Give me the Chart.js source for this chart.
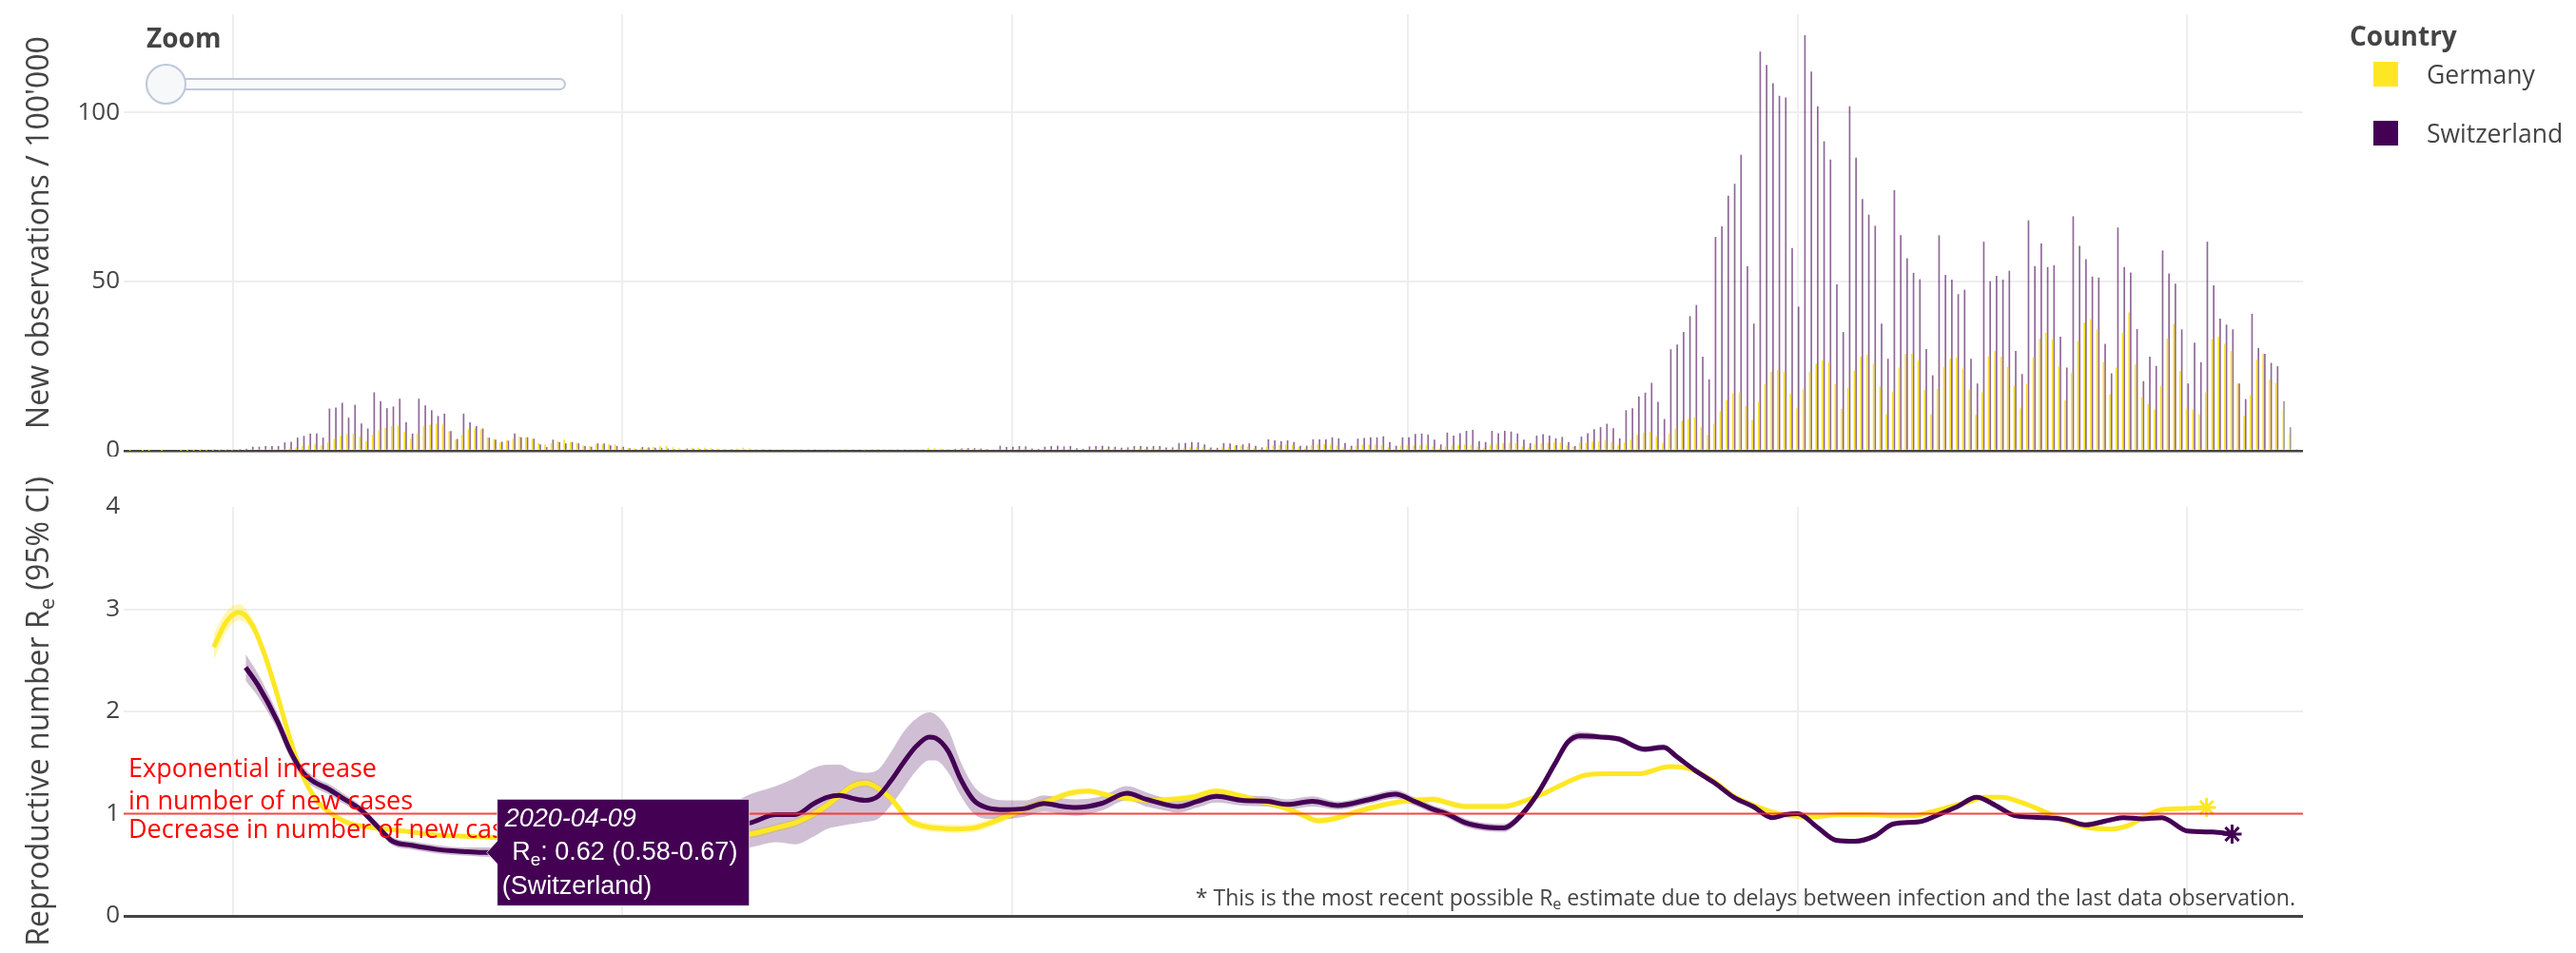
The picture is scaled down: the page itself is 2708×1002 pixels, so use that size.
<!DOCTYPE html>
<html>
<head>
<meta charset="utf-8">
<title>New observations and reproductive number</title>
<script src="https://cdn.jsdelivr.net/npm/chart.js@4.4.1/dist/chart.umd.min.js"></script>
<style>
  html, body { margin: 0; padding: 0; background: #fff; }
  body { position: relative; width: 2708px; height: 1002px; overflow: hidden; font-family: "Open Sans", sans-serif; color: #444; }
  canvas { position: absolute; left: 0; }
  #casesChart { top: 0; }
  #reChart { top: 480px; }
  .zoom-label { position: absolute; left: 154px; top: 20px; font-size: 28px; font-weight: 700; line-height: 38px; }
  .zoom-track { position: absolute; left: 165px; top: 82px; width: 426px; height: 9px; background: #f8fafc; border: 2px solid #bec8d9; border-radius: 7px; }
  .zoom-handle { position: absolute; left: 153px; top: 67px; width: 39px; height: 39px; border-radius: 50%; background: #f6f8fa; border: 2px solid #bec8d9; }
  .legend-title { position: absolute; left: 2470px; top: 18px; font-size: 28px; font-weight: 700; line-height: 38px; white-space: nowrap; }
  .legend-item { position: absolute; left: 2495px; font-size: 26.5px; line-height: 36px; white-space: nowrap; }
  .legend-item span { position: absolute; left: 0; top: 5px; width: 26px; height: 26px; }
  .legend-item em { position: absolute; left: 56px; top: 0; font-style: normal; }
</style>
</head>
<body>
<canvas id="casesChart" width="2708" height="480"></canvas>
<canvas id="reChart" width="2708" height="522"></canvas>

<div class="zoom-label">Zoom</div>
<div class="zoom-track"></div>
<div class="zoom-handle"></div>

<div class="legend-title">Country</div>
<div class="legend-item" style="top:60px"><span style="background:#fde725"></span><em>Germany</em></div>
<div class="legend-item" style="top:122px"><span style="background:#440154"></span><em>Switzerland</em></div>

<script>
// days are counted from 2020-03-01 (day 0)
const firstCaseDay = -16;        // first bar: 2020-02-14
const provisionalFrom = 321;     // the last days are not complete yet
const gridDays = [0, 61, 122, 184, 245, 306];   // 1 Mar, 1 May, 1 Jul, 1 Sep, 1 Nov, 1 Jan
const casesTicks = [0, 50, 100];
const reTicks = [0, 1, 2, 3, 4];
const hoverDay = 39;             // 2020-04-09

// new cases per 100'000, one value per day (Feb | Mar | Apr | ... | Jan)
const casesGermany = [
  0.02, 0, 0.02, 0.02, 0, 0.02, 0, 0, 0.02, 0.02, 0.03, 0.05, 0.05, 0.08, 0.1, 0.15,
  0.15, 0.2, 0.2, 0.25, 0.3, 0.35, 0.3, 0.25, 0.4, 0.7, 1.0, 1.4, 1.6, 2.0, 1.6, 2.5, 3.5, 4.4, 5.0, 5.1, 4.2, 2.8, 4.7, 6.1, 6.8, 7.3, 7.3, 5.6, 3.7, 5.1, 7.3,
  7.7, 8.0, 7.8, 5.8, 3.3, 4.7, 6.4, 6.6, 6.3, 4.0, 3.5, 2.5, 3.1, 3.6, 4.2, 4.0, 3.5, 2.3, 1.9, 2.3, 2.8, 3.3, 2.5, 2.3, 1.6, 1.4, 1.9, 1.9, 1.9, 1.9,
  1.0, 0.9, 0.8, 0.8, 0.9, 1.1, 1.4, 1.4, 1.0, 0.8, 0.6, 0.9, 0.9, 0.9, 0.8, 0.7, 0.6, 0.5, 0.7, 0.9, 0.7, 0.6, 0.6, 0.5, 0.4, 0.5, 0.4, 0.5, 0.5, 0.4, 0.3,
  0.3, 0.4, 0.4, 0.5, 0.5, 0.4, 0.3, 0.2, 0.4, 0.5, 0.4, 0.5, 0.3, 0.2, 0.3, 0.4, 0.5, 0.9, 0.8, 0.7, 0.5, 0.6, 0.6, 0.6, 0.6, 0.6, 0.5, 0.3, 0.5, 0.4,
  0.5, 0.6, 0.5, 0.4, 0.3, 0.3, 0.5, 0.5, 0.5, 0.5, 0.4, 0.3, 0.4, 0.5, 0.6, 0.7, 0.6, 0.4, 0.3, 0.5, 0.7, 0.7, 0.8, 0.6, 0.4, 0.3, 0.7, 0.8, 1.0, 1.1, 1.0,
  0.7, 0.4, 1.0, 1.1, 1.4, 1.5, 1.3, 0.8, 0.5, 1.2, 1.6, 1.7, 1.8, 1.7, 1.1, 0.7, 1.7, 1.9, 2.0, 1.9, 1.6, 1.0, 0.6, 1.5, 1.8, 1.8, 1.9, 1.7, 1.0, 0.5, 1.6,
  1.7, 1.6, 1.7, 1.8, 1.3, 0.7, 1.3, 1.6, 1.7, 1.9, 1.8, 1.2, 0.9, 1.7, 2.1, 2.3, 2.4, 2.3, 1.3, 1.0, 2.0, 2.2, 2.4, 2.5, 2.4, 1.6, 1.2, 2.5, 2.3, 2.7,
  2.9, 3.1, 2.6, 1.7, 2.4, 3.3, 4.8, 5.4, 5.6, 4.3, 2.4, 5.1, 6.6, 8.9, 9.4, 9.8, 7.0, 4.7, 8.0, 11.7, 15.0, 17.0, 17.3, 13.3, 9.1, 14.5, 19.7, 23.4, 23.9, 23.4, 16.9,
  12.6, 18.3, 23.4, 25.7, 26.7, 26.2, 19.7, 12.4, 18.7, 23.7, 27.8, 28.4, 25.7, 19.0, 10.8, 17.5, 24.6, 28.6, 28.7, 26.7, 18.1, 10.8, 18.3, 24.8, 27.2, 27.6, 24.3, 18.1, 10.6, 17.3,
  27.9, 29.5, 27.8, 24.8, 19.2, 12.6, 19.7, 27.6, 33.2, 34.9, 33.0, 25.0, 15.0, 23.1, 32.5, 37.9, 38.9, 35.9, 26.2, 16.7, 24.6, 34.9, 40.9, 25.5, 15.9, 13.8, 12.2, 19.2, 33.2, 37.5, 23.6,
  12.4, 12.2, 10.8, 17.3, 33.0, 33.7, 31.6, 29.5, 19.9, 10.3, 16.4, 26.9, 28.7, 21.0, 20.1, 12.0, 5.0, 0.5
];

const casesSwitzerland = [
  0, 0, 0, 0, 0, 0, 0, 0, 0, 0.05, 0.1, 0.1, 0.2, 0.2, 0.3, 0.3,
  0.4, 0.5, 0.6, 1.2, 1.2, 1.4, 1.4, 1.4, 2.5, 2.7, 3.9, 4.4, 5.1, 5.1, 3.9, 12.5, 12.8, 14.2, 9.8, 13.6, 8.1, 6.6, 17.3, 14.7, 12.6, 13.1, 15.4, 8.4, 5.1, 15.4, 13.4,
  12.0, 10.3, 11.0, 5.8, 3.5, 11.0, 8.4, 7.3, 6.6, 3.9, 3.3, 2.7, 3.0, 5.1, 4.0, 4.0, 3.6, 1.9, 1.1, 3.3, 2.6, 2.2, 2.6, 2.2, 1.4, 1.2, 2.2, 2.2, 1.6, 1.4,
  1.2, 0.8, 0.5, 1.1, 1.0, 0.9, 0.9, 0.7, 0.5, 0.4, 0.7, 0.6, 0.5, 0.5, 0.5, 0.3, 0.2, 0.5, 0.4, 0.4, 0.4, 0.3, 0.2, 0.1, 0.3, 0.3, 0.4, 0.3, 0.3, 0.2, 0.1,
  0.3, 0.3, 0.4, 0.3, 0.3, 0.2, 0.1, 0.3, 0.3, 0.2, 0.3, 0.3, 0.2, 0.1, 0.3, 0.4, 0.4, 0.3, 0.4, 0.3, 0.2, 0.6, 0.7, 0.8, 0.8, 0.7, 0.5, 0.3, 1.5, 1.1,
  1.2, 1.4, 1.3, 0.7, 0.6, 1.2, 1.4, 1.5, 1.3, 1.4, 0.8, 0.6, 1.3, 1.4, 1.5, 1.3, 1.2, 0.9, 1.0, 1.4, 1.4, 1.2, 1.4, 1.4, 1.0, 1.0, 2.3, 2.3, 2.6, 2.5, 1.9,
  1.0, 0.9, 2.3, 2.2, 1.7, 1.9, 2.2, 1.5, 1.0, 3.4, 3.1, 2.9, 3.1, 2.6, 1.5, 1.5, 3.4, 3.4, 3.4, 4.0, 3.7, 2.3, 1.5, 3.6, 3.8, 4.0, 4.0, 4.3, 2.6, 1.5, 4.0,
  4.0, 5.0, 5.1, 4.8, 3.3, 1.9, 5.4, 4.5, 5.2, 5.9, 6.2, 2.9, 2.6, 5.9, 5.2, 5.9, 5.7, 5.1, 3.3, 2.3, 4.5, 4.9, 4.5, 3.7, 4.1, 2.6, 1.4, 4.2, 5.2, 6.4,
  7.0, 8.0, 6.7, 3.7, 12.0, 12.6, 16.1, 17.2, 20.1, 14.5, 9.4, 30.0, 31.4, 35.1, 39.8, 43.1, 27.8, 21.1, 63.2, 66.3, 75.4, 78.9, 87.5, 54.5, 37.6, 118.0, 114.0, 108.6, 104.9, 104.4, 59.9,
  42.6, 122.8, 112.1, 101.8, 91.5, 86.1, 49.2, 35.1, 101.8, 86.6, 74.4, 69.8, 66.5, 37.6, 27.2, 77.0, 63.7, 56.9, 52.6, 50.7, 30.1, 22.3, 63.7, 52.0, 50.6, 46.3, 47.6, 27.2, 19.9, 61.8,
  50.1, 51.7, 50.6, 53.2, 29.5, 22.7, 68.1, 54.6, 61.3, 54.3, 54.8, 33.7, 24.6, 69.3, 60.6, 56.6, 51.5, 51.2, 31.6, 22.9, 66.0, 54.3, 52.7, 36.0, 20.6, 27.8, 25.1, 59.2, 52.4, 49.4, 35.9,
  19.9, 32.0, 26.2, 61.8, 48.9, 39.1, 37.3, 35.9, 19.9, 15.3, 40.5, 30.4, 28.7, 26.0, 25.0, 14.7, 7.0, 0.5
];

// effective reproductive number with 95% CI
const reDaysGermany = [-3, -1, 1, 3, 5, 7, 9, 11, 13, 15, 18, 21, 24, 28, 32, 36, 40, 45, 50, 55, 60, 65, 70, 75, 81, 85, 88, 91, 93, 95,
  97, 99, 101, 103, 106, 108, 110, 113, 116, 119, 121, 124, 128, 131, 134, 137, 140, 144, 147, 150, 154, 158, 161, 164, 167, 170, 173, 176, 179, 182,
  185, 188, 190, 193, 196, 199, 202, 205, 208, 212, 216, 220, 225, 228, 232, 235, 239, 242, 247, 252, 256, 260, 263, 266, 269, 272, 274, 277, 280, 284,
  287, 290, 294, 297, 299, 302, 305, 309];
const reGermany = [2.63, 2.88, 2.97, 2.85, 2.55, 2.15, 1.72, 1.36, 1.14, 1.02, 0.91, 0.87, 0.85, 0.82, 0.79, 0.78, 0.77, 0.76, 0.75, 0.74,
  0.74, 0.75, 0.76, 0.78, 0.80, 0.86, 0.91, 1.00, 1.08, 1.18, 1.27, 1.30, 1.25, 1.15, 0.93, 0.88, 0.86, 0.85, 0.86, 0.92,
  0.97, 1.05, 1.13, 1.20, 1.22, 1.18, 1.15, 1.13, 1.14, 1.16, 1.22, 1.17, 1.12, 1.07, 1.00, 0.93, 0.96, 1.02, 1.07, 1.11,
  1.13, 1.14, 1.11, 1.07, 1.07, 1.07, 1.12, 1.19, 1.28, 1.38, 1.39, 1.39, 1.46, 1.44, 1.31, 1.17, 1.06, 1.00, 0.97, 0.99,
  0.99, 0.98, 0.98, 1.02, 1.07, 1.12, 1.16, 1.16, 1.11, 1.01, 0.93, 0.87, 0.85, 0.89, 0.96, 1.04, 1.05, 1.06];
const reLowGermany = [2.50, 2.78, 2.89, 2.79, 2.50, 2.11, 1.69, 1.33, 1.11, 0.99, 0.89, 0.85, 0.83, 0.80, 0.77, 0.76, 0.75, 0.74, 0.73, 0.72,
  0.72, 0.73, 0.74, 0.76, 0.76, 0.82, 0.87, 0.96, 1.04, 1.14, 1.23, 1.26, 1.21, 1.11, 0.89, 0.84, 0.82, 0.81, 0.82, 0.88,
  0.93, 1.01, 1.09, 1.17, 1.19, 1.15, 1.12, 1.10, 1.11, 1.13, 1.19, 1.14, 1.09, 1.04, 0.97, 0.90, 0.93, 0.99, 1.04, 1.08,
  1.10, 1.11, 1.08, 1.04, 1.04, 1.04, 1.10, 1.17, 1.26, 1.36, 1.37, 1.37, 1.44, 1.42, 1.29, 1.15, 1.04, 0.98, 0.95, 0.97,
  0.97, 0.96, 0.96, 1.00, 1.05, 1.10, 1.14, 1.14, 1.09, 0.99, 0.91, 0.85, 0.83, 0.87, 0.94, 1.02, 1.03, 1.04];
const reHighGermany = [2.76, 2.98, 3.05, 2.91, 2.60, 2.19, 1.75, 1.39, 1.17, 1.05, 0.93, 0.89, 0.87, 0.84, 0.81, 0.80, 0.79, 0.78, 0.77, 0.76,
  0.76, 0.77, 0.78, 0.80, 0.84, 0.90, 0.95, 1.04, 1.12, 1.22, 1.31, 1.34, 1.29, 1.19, 0.97, 0.92, 0.90, 0.89, 0.90, 0.96,
  1.01, 1.09, 1.17, 1.23, 1.25, 1.21, 1.18, 1.16, 1.17, 1.19, 1.25, 1.20, 1.15, 1.10, 1.03, 0.96, 0.99, 1.05, 1.10, 1.14,
  1.16, 1.17, 1.14, 1.10, 1.10, 1.10, 1.14, 1.21, 1.30, 1.40, 1.41, 1.41, 1.48, 1.46, 1.33, 1.19, 1.08, 1.02, 0.99, 1.01,
  1.01, 1.00, 1.00, 1.04, 1.09, 1.14, 1.18, 1.18, 1.13, 1.03, 0.95, 0.89, 0.87, 0.91, 0.98, 1.06, 1.07, 1.08];

const reDaysSwitzerland = [2, 4, 7, 9, 11, 13, 15, 17, 20, 23, 25, 28, 32, 36, 39, 43, 48, 53, 58, 63,
  68, 73, 78, 81, 85, 88, 91, 93, 95, 97, 99, 101, 103, 105, 107, 109, 110, 112, 114, 116,
  118, 121, 124, 127, 130, 132, 136, 140, 143, 146, 148, 151, 154, 158, 162, 165, 169, 173, 178, 182,
  185, 188, 190, 193, 196, 199, 201, 204, 207, 209, 211, 214, 217, 221, 224, 226, 229, 232, 235, 238,
  241, 243, 245, 248, 251, 254, 257, 260, 264, 267, 270, 273, 276, 279, 284, 287, 290, 294, 296, 299,
  302, 306, 310, 313];
const reSwitzerland = [2.43, 2.25, 1.90, 1.61, 1.40, 1.30, 1.24, 1.16, 1.04, 0.85, 0.73, 0.69, 0.65, 0.63, 0.62, 0.62, 0.63, 0.65, 0.69, 0.74,
  0.79, 0.84, 0.88, 0.91, 0.99, 0.99, 1.10, 1.16, 1.18, 1.15, 1.13, 1.17, 1.32, 1.50, 1.66, 1.75, 1.74, 1.61, 1.33, 1.13,
  1.06, 1.04, 1.05, 1.10, 1.07, 1.06, 1.10, 1.20, 1.14, 1.09, 1.07, 1.12, 1.17, 1.13, 1.12, 1.09, 1.12, 1.08, 1.14, 1.19,
  1.12, 1.04, 1.00, 0.91, 0.87, 0.86, 0.94, 1.17, 1.49, 1.70, 1.76, 1.75, 1.73, 1.63, 1.65, 1.56, 1.42, 1.30, 1.16, 1.07,
  0.96, 0.99, 1.00, 0.87, 0.74, 0.73, 0.78, 0.90, 0.92, 0.99, 1.07, 1.16, 1.08, 0.98, 0.96, 0.94, 0.89, 0.94, 0.96, 0.95,
  0.96, 0.83, 0.82, 0.80];
const reLowSwitzerland = [2.30, 2.14, 1.82, 1.54, 1.34, 1.25, 1.19, 1.11, 1.00, 0.81, 0.69, 0.65, 0.61, 0.59, 0.58, 0.57, 0.57, 0.58, 0.60, 0.63,
  0.65, 0.66, 0.66, 0.67, 0.72, 0.70, 0.78, 0.85, 0.88, 0.90, 0.92, 0.95, 1.08, 1.25, 1.42, 1.52, 1.52, 1.40, 1.17, 1.00,
  0.95, 0.95, 0.97, 1.02, 0.99, 0.98, 1.03, 1.13, 1.07, 1.03, 1.01, 1.06, 1.11, 1.08, 1.07, 1.04, 1.07, 1.04, 1.10, 1.15,
  1.08, 1.00, 0.96, 0.87, 0.83, 0.82, 0.90, 1.13, 1.45, 1.66, 1.72, 1.72, 1.70, 1.60, 1.62, 1.53, 1.40, 1.28, 1.14, 1.05,
  0.94, 0.97, 0.98, 0.85, 0.72, 0.71, 0.76, 0.88, 0.90, 0.97, 1.05, 1.14, 1.06, 0.96, 0.94, 0.92, 0.87, 0.92, 0.94, 0.93,
  0.94, 0.81, 0.80, 0.78];
const reHighSwitzerland = [2.56, 2.36, 1.98, 1.68, 1.46, 1.35, 1.29, 1.21, 1.08, 0.89, 0.77, 0.73, 0.69, 0.67, 0.67, 0.67, 0.69, 0.72, 0.78, 0.85,
  0.93, 1.02, 1.10, 1.19, 1.27, 1.35, 1.45, 1.48, 1.48, 1.42, 1.40, 1.43, 1.60, 1.80, 1.93, 1.99, 1.97, 1.82, 1.50, 1.27,
  1.17, 1.13, 1.13, 1.18, 1.15, 1.14, 1.17, 1.27, 1.21, 1.15, 1.13, 1.18, 1.23, 1.18, 1.17, 1.14, 1.17, 1.12, 1.18, 1.23,
  1.16, 1.08, 1.04, 0.95, 0.91, 0.90, 0.98, 1.21, 1.53, 1.74, 1.80, 1.78, 1.76, 1.66, 1.68, 1.59, 1.44, 1.32, 1.18, 1.09,
  0.98, 1.01, 1.02, 0.89, 0.76, 0.75, 0.80, 0.92, 0.94, 1.01, 1.09, 1.18, 1.10, 1.00, 0.98, 0.96, 0.91, 0.96, 0.98, 0.97,
  0.98, 0.85, 0.84, 0.82];

const GERMANY = '#fde725';
const SWITZERLAND = '#440154';
const FONT = '"Open Sans", sans-serif';
const HOVER_FONT = '"Liberation Sans", Arial, sans-serif';

const casePoints = values => values.map((v, i) => ({ x: firstCaseDay + i, y: v }));
const rePoints = (days, values) => days.map((d, i) => ({ x: d, y: values[i] }));
const lastOnly = (n, r) => Array.from({ length: n }, (_, i) => (i === n - 1 ? r : 0));

// text with "e" subscripts: parts = [[text, isSub], ...]
function richWidth(ctx, parts, size) {
  let w = 0;
  parts.forEach(([t, sub]) => {
    ctx.font = `${sub ? size * 0.7 : size}px ${FONT}`;
    w += ctx.measureText(t).width;
  });
  return w;
}
function drawRich(ctx, parts, x, y, size, align) {
  const w = richWidth(ctx, parts, size);
  let cx = align === 'right' ? x - w : align === 'center' ? x - w / 2 : x;
  ctx.textAlign = 'left';
  ctx.textBaseline = 'middle';
  parts.forEach(([t, sub]) => {
    ctx.font = `${sub ? size * 0.7 : size}px ${FONT}`;
    ctx.fillText(t, cx, sub ? y + size * 0.28 : y);
    cx += ctx.measureText(t).width;
  });
}

const yTitle = {
  id: 'yTitle',
  afterDraw(chart, args, opts) {
    const { ctx, chartArea } = chart;
    ctx.save();
    ctx.translate(opts.x, (chartArea.top + chartArea.bottom) / 2);
    ctx.rotate(-Math.PI / 2);
    ctx.fillStyle = '#444';
    drawRich(ctx, opts.parts, 0, 0, opts.size, 'center');
    ctx.restore();
  }
};

function xAxis() {
  return {
    type: 'linear', min: -17.1, max: 324.1, offset: false,
    ticks: { display: false },
    grid: { color: '#eee', lineWidth: 2, drawTicks: false, offset: false },
    border: { display: false },
    afterBuildTicks: s => { s.ticks = gridDays.map(v => ({ value: v })); },
    afterFit: s => { s.height = 0; }
  };
}
function yAxis(min, max, ticks, zeroWidth) {
  return {
    min, max,
    ticks: { font: { family: FONT, size: 26 }, color: '#444', padding: 4 },
    grid: {
      drawTicks: false,
      color: c => (c.tick.value === 0 ? '#444' : c.tick.value === max ? 'rgba(0,0,0,0)' : '#eee'),
      lineWidth: c => (c.tick.value === 0 ? zeroWidth : 2)
    },
    border: { display: false },
    afterBuildTicks: s => { s.ticks = ticks.map(v => ({ value: v })); },
    afterFit: s => { s.width = 130; s.paddingTop = 0; s.paddingBottom = 0; }
  };
}

function drawCharts() {
  new Chart(document.getElementById('casesChart'), {
    type: 'bar',
    data: {
      datasets: [
        {
          label: 'Germany',
          data: casePoints(casesGermany),
          backgroundColor: c => (c.raw && c.raw.x >= provisionalFrom ? 'rgba(253,231,37,0.35)' : 'rgba(247,222,30,0.95)')
        },
        {
          label: 'Switzerland',
          data: casePoints(casesSwitzerland),
          backgroundColor: c => (c.raw && c.raw.x >= provisionalFrom ? 'rgba(140,140,140,0.85)' : 'rgba(68,1,84,0.6)')
        }
      ]
    },
    options: {
      responsive: false,
      animation: false,
      layout: { padding: { left: 0, right: 287, top: 15, bottom: 6 } },
      datasets: { bar: { categoryPercentage: 0.5, barPercentage: 1 } },
      plugins: {
        legend: { display: false },
        tooltip: { enabled: false },
        yTitle: { x: 42, size: 32, parts: [["New observations / 100'000", false]] }
      },
      scales: { x: xAxis(), y: yAxis(0, 129, casesTicks, 2.5) }
    },
    plugins: [yTitle]
  });

  // reference line, notes and the pinned hover label of the lower panel
  const reExtras = {
    id: 'reExtras',
    afterDatasetsDraw(chart) {
      const { ctx, chartArea, scales: { y } } = chart;
      const y1 = y.getPixelForValue(1);
      ctx.save();
      ctx.strokeStyle = 'rgba(255,40,40,0.85)';
      ctx.lineWidth = 2;
      ctx.beginPath();
      ctx.moveTo(chartArea.left, y1);
      ctx.lineTo(chartArea.right, y1);
      ctx.stroke();

      ctx.fillStyle = '#ff0000';
      drawRich(ctx, [['Exponential increase', false]], chartArea.left + 5, y1 - 46, 27, 'left');
      drawRich(ctx, [['in number of new cases', false]], chartArea.left + 5, y1 - 12, 27, 'left');
      drawRich(ctx, [['Decrease in number of new cases', false]], chartArea.left + 5, y1 + 18, 27, 'left');

      ctx.fillStyle = '#444';
      drawRich(ctx, [['* This is the most recent possible R', false], ['e', true],
        [' estimate due to delays between infection and the last data observation.', false]],
        chartArea.right - 8, chartArea.bottom - 18, 23, 'right');
      ctx.restore();
    },
    afterDraw(chart) {
      const { ctx, scales: { x, y } } = chart;
      const i = reDaysSwitzerland.indexOf(hoverDay);
      const px = x.getPixelForValue(hoverDay);
      const py = y.getPixelForValue(reSwitzerland[i]);
      const left = px + 16, w = 265, h = 112, top = py - h / 2;
      ctx.save();
      ctx.fillStyle = SWITZERLAND;
      ctx.strokeStyle = 'rgba(255,255,255,0.7)';
      ctx.lineWidth = 1;
      ctx.beginPath();
      ctx.moveTo(px + 5, py);
      ctx.lineTo(left, py - 12);
      ctx.lineTo(left, top);
      ctx.lineTo(left + w, top);
      ctx.lineTo(left + w, top + h);
      ctx.lineTo(left, top + h);
      ctx.lineTo(left, py + 12);
      ctx.closePath();
      ctx.fill();
      ctx.stroke();

      const date = new Date(Date.UTC(2020, 2, 1) + hoverDay * 86400000).toISOString().slice(0, 10);
      ctx.fillStyle = '#fff';
      ctx.textBaseline = 'middle';
      ctx.textAlign = 'left';
      ctx.font = `italic 27px ${HOVER_FONT}`;
      ctx.fillText(date, left + 8, py - 35);
      let cx = left + 8;
      const line2 = [[' R', false], ['e', true],
        [`: ${reSwitzerland[i].toFixed(2)} (${reLowSwitzerland[i].toFixed(2)}-${reHighSwitzerland[i].toFixed(2)})`, false]];
      line2.forEach(([t, sub]) => {
        ctx.font = `${sub ? 19 : 27}px ${HOVER_FONT}`;
        ctx.fillText(t, cx, sub ? py + 8 : py);
        cx += ctx.measureText(t).width;
      });
      ctx.font = `27px ${HOVER_FONT}`;
      ctx.fillText('(Switzerland)', left + 5, py + 36);
      ctx.restore();
    }
  };

  const band = (days, values, color, fill, order) => ({
    data: rePoints(days, values),
    borderWidth: 0, pointRadius: 0, backgroundColor: color, fill, order,
    cubicInterpolationMode: 'monotone'
  });
  const line = (label, days, values, color, order) => ({
    label, data: rePoints(days, values), order,
    borderColor: color, borderWidth: 5, fill: false,
    cubicInterpolationMode: 'monotone',
    pointStyle: 'star', pointRadius: lastOnly(days.length, 10),
    pointBorderColor: color, pointBorderWidth: 3, pointBackgroundColor: color
  });

  new Chart(document.getElementById('reChart'), {
    type: 'line',
    data: {
      datasets: [
        band(reDaysGermany, reLowGermany, 'rgba(0,0,0,0)', false, 6),
        band(reDaysGermany, reHighGermany, 'rgba(253,231,37,0.35)', '-1', 5),
        band(reDaysSwitzerland, reLowSwitzerland, 'rgba(0,0,0,0)', false, 4),
        band(reDaysSwitzerland, reHighSwitzerland, 'rgba(68,1,84,0.25)', '-1', 3),
        line('Germany', reDaysGermany, reGermany, GERMANY, 2),
        line('Switzerland', reDaysSwitzerland, reSwitzerland, SWITZERLAND, 1)
      ]
    },
    options: {
      responsive: false,
      animation: false,
      layout: { padding: { left: 0, right: 287, top: 53, bottom: 39 } },
      plugins: {
        legend: { display: false },
        tooltip: { enabled: false },
        yTitle: { x: 42, size: 32, parts: [['Reproductive number R', false], ['e', true], [' (95% CI)', false]] }
      },
      scales: { x: xAxis(), y: yAxis(0, 4, reTicks, 3) }
    },
    plugins: [yTitle, reExtras]
  });
}

Promise.all([
  document.fonts.load(`26px ${FONT}`),
  document.fonts.load(`bold 28px ${FONT}`),
  document.fonts.load(`27px ${HOVER_FONT}`),
  document.fonts.load(`italic 27px ${HOVER_FONT}`)
]).catch(() => null).then(drawCharts);
</script>
</body>
</html>
